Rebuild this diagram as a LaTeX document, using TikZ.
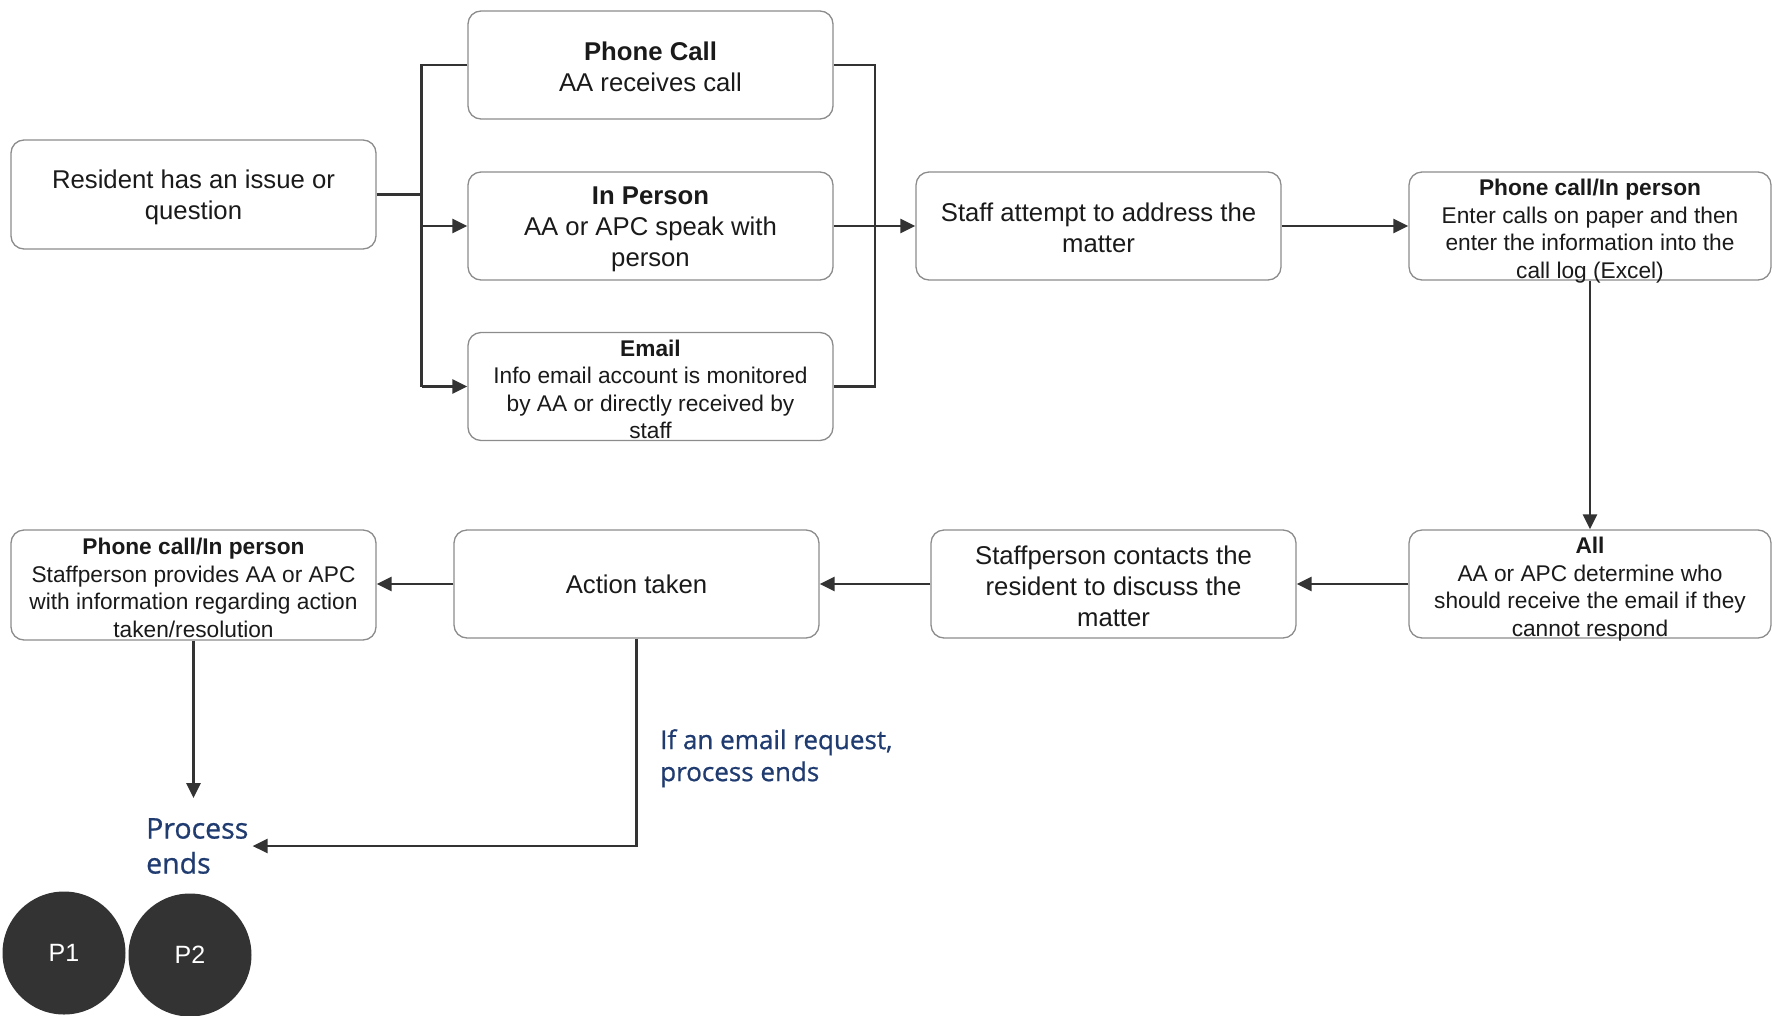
\documentclass[tikz,border=0pt]{standalone}
\usepackage{fontspec}
\setmainfont{Liberation Sans}
\newfontfamily\notefont[FakeBold=0.8]{Open Sans}
\usetikzlibrary{arrows.meta}

\definecolor{ink}{HTML}{1A1A1A}
\definecolor{edge}{HTML}{8C8C8C}
\definecolor{wire}{HTML}{333333}
\definecolor{note}{HTML}{1F3B70}
\definecolor{disc}{HTML}{333333}

% raises the first line so that the text block sits slightly lower in its box
\newcommand{\toppad}[1]{\rule{0pt}{#1}}

\tikzset{
  card/.style={draw=edge, line width=1.3pt, rounded corners=13pt, fill=white,
    minimum width=365pt, minimum height=108pt, align=center, text=ink, inner sep=2pt},
  bigtext/.style={font=\fontsize{25.7}{31}\selectfont},
  smalltext/.style={font=\fontsize{22.7}{27.5}\selectfont, inner ysep=1pt, text depth=0pt},
  link/.style={draw=wire, line width=2.6pt, -{Triangle[length=15pt,width=14pt]}},
  plain/.style={draw=wire, line width=2.6pt},
  notetext/.style={text=note, align=left, inner sep=0pt},
  marker/.style={circle, fill=disc, minimum size=123pt, inner sep=0pt, text=white,
    font=\fontsize{25}{30}\selectfont},
}

\begin{document}
\begin{tikzpicture}[x=1pt,y=-1pt]
\useasboundingbox (0,0) rectangle (1772,1015);

% top row
\node[card, bigtext, minimum height=109pt] (res) at (193.5,194.5) {\toppad{25pt}Resident has an issue or\\question};
\node[card, bigtext] (phone) at (650.5,65) {\toppad{22pt}\textbf{Phone Call}\\AA receives call};
\node[card, bigtext] (inperson) at (650.5,226) {\toppad{25pt}\textbf{In Person}\\AA or APC speak with\\person};
\node[card, smalltext] (email) at (650.5,386.5) {\toppad{22pt}\textbf{Email}\\Info email account is monitored\\by AA or directly received by\\staff};
\node[card, bigtext] (staff) at (1098.5,226) {\toppad{22pt}Staff attempt to address the\\matter};
\node[card, smalltext, minimum width=362pt] (log) at (1590,226) {\toppad{22pt}\textbf{Phone call/In person}\\Enter calls on paper and then\\enter the information into the\\call log (Excel)};

% bottom row
\node[card, smalltext, minimum width=362pt] (all) at (1590,584) {\toppad{22pt}\textbf{All}\\AA or APC determine who\\should receive the email if they\\cannot respond};
\node[card, bigtext] (contact) at (1113.5,584) {\toppad{23pt}Staffperson contacts the\\resident to discuss the\\matter};
\node[card, bigtext] (action) at (636.5,584) {\toppad{20pt}Action taken};
\node[card, smalltext, minimum height=110pt] (info) at (193.5,585) {\toppad{22pt}\textbf{Phone call/In person}\\Staffperson provides AA or APC\\with information regarding action\\taken/resolution};

% end labels
\node[notetext, anchor=west, font=\notefont\fontsize{28.5}{35}\selectfont] (endlabel) at (146,846) {Process\\ends};
\node[notetext, anchor=north west, font=\notefont\fontsize{26}{32}\selectfont] (emailnote) at (660,729) {If an email request,\\process ends};

% markers
\node[marker] (p1) at (64,953) {P1};
\node[marker] (p2) at (190,955) {P2};

% branching from the resident
\coordinate (lbus) at (421.5,0);
\coordinate (rbus) at (875,0);
\draw[plain] (res.east) -- (res.east -| lbus);
\draw[plain] (phone.west) -| (lbus |- email.west);
\draw[link] (lbus |- inperson.west) -- (inperson.west);
\draw[link] (lbus |- email.west) -- (email.west);

% merging into staff attempt
\draw[plain] (phone.east) -| (rbus |- email.east) -- (email.east);
\draw[link] (inperson.east) -- (staff.west);
\draw[link] (staff.east) -- (log.west);
\draw[link] (log.south) -- (all.north);

% bottom flow
\draw[link] (all.west) -- (contact.east);
\draw[link] (contact.west) -- (action.east);
\draw[link] (action.west) -- (action.west -| info.east);

% endings
\coordinate (stop) at (192,798);
\draw[link] (info.south) -- (info.south |- stop);
\draw[link] (action.south) |- ([xshift=4pt]endlabel.east);
\end{tikzpicture}
\end{document}
